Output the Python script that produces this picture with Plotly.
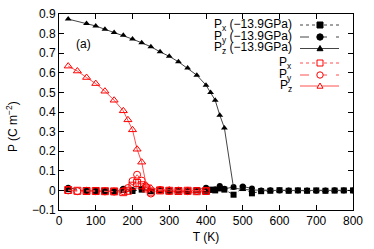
import plotly.graph_objects as go

# ---- data ----
T_b = [25, 75, 100, 125, 150, 175, 200, 225, 250, 275, 300, 325, 350, 375, 400, 412.5, 425,
       437.5, 450, 475, 500, 525, 550, 575, 600, 625, 650, 675, 700, 725, 750, 775, 800]
Px_b = [0.006, -0.004, -0.003, -0.004, -0.005, 0.002, -0.003, 0.004, -0.003, 0.0, -0.002, -0.001,
        -0.003, 0.0, -0.002, 0.004, 0.0, 0.01, 0.004, -0.022, 0.012, -0.015, -0.004, -0.002, 0.001,
        -0.002, 0.0, -0.002, 0.0, -0.002, -0.001, 0.0, 0.0]
Py_b = [0.013, -0.002, -0.002, -0.003, -0.004, 0.008, 0.002, 0.008, -0.002, 0.001, -0.001, 0.001,
        -0.002, 0.002, 0.014, 0.002, 0.006, 0.022, 0.008, 0.017, 0.02, 0.01, 0.0, 0.001, -0.001,
        0.0, -0.001, 0.0, -0.002, 0.0, 0.001, -0.001, 0.0]
Pz_b = [0.874, 0.852, 0.839, 0.822, 0.806, 0.791, 0.772, 0.753, 0.733, 0.707, 0.684, 0.656,
        0.624, 0.588, 0.537, 0.50, 0.46, 0.384, 0.319, 0.012, 0.005, 0.002, 0.0, 0.0, 0.0,
        0.0, 0.0, 0.0, 0.0, 0.0, 0.0, 0.0, 0.0]

T_r = [25, 50, 75, 100, 125, 150, 175, 187.5, 200, 212.5, 225, 237.5, 250, 275, 300, 325, 350, 375, 400]
Px_r = [0.002, -0.002, -0.003, -0.003, -0.004, -0.005, -0.009, -0.002, 0.024, 0.038, 0.026, 0.01,
        -0.006, 0.0, -0.002, -0.003, -0.002, -0.004, -0.003]
Py_r = [0.0, -0.004, -0.002, -0.004, -0.005, -0.006, -0.004, 0.012, 0.048, 0.08, 0.05, 0.017,
        -0.016, 0.002, -0.003, -0.002, -0.004, -0.003, -0.004]
Pz_r = [0.634, 0.609, 0.576, 0.545, 0.506, 0.46, 0.406, 0.36, 0.309, 0.21, 0.144, 0.026, 0.012,
        0.004, 0.002, 0.0, 0.0, -0.001, 0.0]

x_ticks = [0, 100, 200, 300, 400, 500, 600, 700, 800]
y_ticks = [-0.1, 0, 0.1, 0.2, 0.3, 0.4, 0.5, 0.6, 0.7, 0.8, 0.9]
y_ticktext = ["\u22120.1", "0", "0.1", "0.2", "0.3", "0.4", "0.5", "0.6", "0.7", "0.8", "0.9"]

names = ["P<sub>x</sub> (\u221213.9GPa)", "P<sub>y</sub> (\u221213.9GPa)", "P<sub>z</sub> (\u221213.9GPa)",
         "P<sub>x</sub>", "P<sub>y</sub>", "P<sub>z</sub>"]
x_title = "T (K)"
y_title = "P (C m<sup>\u22122</sup>)"
panel_label = "(a)"

# ---- styles ----
W, H = 374, 249
ML, MR, MT, MB = 59, 21, 14, 39
PW, PH = W - ML - MR, H - MT - MB
FONT = "Liberation Sans, Arial, sans-serif"
RED = "#ff0000"
RED_LINE = "#ff5050"
GRAY = "#444444"

series = [
    (T_b, Px_b, names[0], dict(color=GRAY, width=1, dash="dot"), dict(symbol="square", size=6, color="black")),
    (T_b, Py_b, names[1], dict(color=GRAY, width=1, dash="dash"), dict(symbol="circle", size=6, color="black")),
    (T_b, Pz_b, names[2], dict(color=GRAY, width=1, dash="solid"), dict(symbol="triangle-up", size=6, color="black")),
    (T_r, Px_r, names[3], dict(color=RED_LINE, width=1, dash="dot"),
     dict(symbol="square-open", size=7, color=RED, line=dict(width=1, color=RED))),
    (T_r, Py_r, names[4], dict(color=RED_LINE, width=1, dash="dash"),
     dict(symbol="circle-open", size=7, color=RED, line=dict(width=1, color=RED))),
    (T_r, Pz_r, names[5], dict(color=RED_LINE, width=1, dash="solid"),
     dict(symbol="triangle-up-open", size=7, color=RED, line=dict(width=1, color=RED))),
]

fig = go.Figure()
for xs, ys, nm, ln, mk in series:
    fig.add_trace(go.Scatter(x=xs, y=ys, name=nm, mode="lines+markers", line=ln, marker=mk,
                             showlegend=False))


# ---- manual gnuplot-style key ----
def px2x(px):
    return (px - ML) / PW


def py2y(py):
    return (MT + PH - py) / PH


rows_py = [25, 37, 48.5, 63, 75, 86]
text_right = 294
line_x0, line_x1, mark_x = 300, 339, 320
shapes = []
annotations = []
for i, (xs, ys, nm, ln, mk) in enumerate(series):
    yy = py2y(rows_py[i])
    annotations.append(dict(x=px2x(text_right), y=yy, xref="paper", yref="paper", text=nm,
                            showarrow=False, xanchor="right", yanchor="middle",
                            font=dict(family=FONT, size=12, color="black")))
    shapes.append(dict(type="line", xref="paper", yref="paper", x0=px2x(line_x0), x1=px2x(line_x1),
                       y0=yy, y1=yy, line=dict(color=ln["color"], width=1, dash=ln["dash"])))
    filled = i < 3
    col = "black" if filled else RED
    fill = col if filled else "white"
    common = dict(xref="paper", yref="paper", xsizemode="pixel", ysizemode="pixel",
                  xanchor=px2x(mark_x), yanchor=yy, line=dict(color=col, width=1), fillcolor=fill)
    sym = mk["symbol"]
    if sym.startswith("square"):
        shapes.append(dict(type="rect", x0=-3, x1=3, y0=-3, y1=3, **common))
    elif sym.startswith("circle"):
        shapes.append(dict(type="circle", x0=-3.2, x1=3.2, y0=-3.2, y1=3.2, **common))
    else:
        shapes.append(dict(type="path", path="M -3 -2.2 L 3 -2.2 L 0 3 Z", **common))

annotations.append(dict(x=px2x(83), y=py2y(44), xref="paper", yref="paper", text=panel_label,
                        showarrow=False, xanchor="center", yanchor="middle",
                        font=dict(family=FONT, size=12, color="black")))
# y-axis title (placed like gnuplot, slightly below the plot centre)
annotations.append(dict(x=px2x(12), y=py2y(127), xref="paper", yref="paper", text=y_title,
                        showarrow=False, xanchor="center", yanchor="middle", textangle=-90,
                        font=dict(family=FONT, size=12, color="black")))

axis_common = dict(showline=True, linecolor="black", linewidth=1, mirror="allticks",
                   ticks="inside", ticklen=5, tickcolor="black", tickwidth=1,
                   showgrid=False, zeroline=False, automargin=False,
                   tickfont=dict(family=FONT, size=12, color="black"))

fig.update_layout(
    width=W, height=H,
    margin=dict(l=ML, r=MR, t=MT, b=MB, pad=0),
    paper_bgcolor="white", plot_bgcolor="white",
    font=dict(family=FONT, size=12, color="black"),
    xaxis=dict(range=[0, 800], tickvals=x_ticks,
               title=dict(text=x_title, font=dict(family=FONT, size=12), standoff=5),
               **axis_common),
    yaxis=dict(range=[-0.1, 0.9], tickvals=y_ticks, ticktext=y_ticktext, **axis_common),
    shapes=shapes,
    annotations=annotations,
    showlegend=False,
)

fig.write_html("out.html",
               config={"displayModeBar": False},
               post_script="document.body.style.margin='0';document.body.style.overflow='hidden';")
